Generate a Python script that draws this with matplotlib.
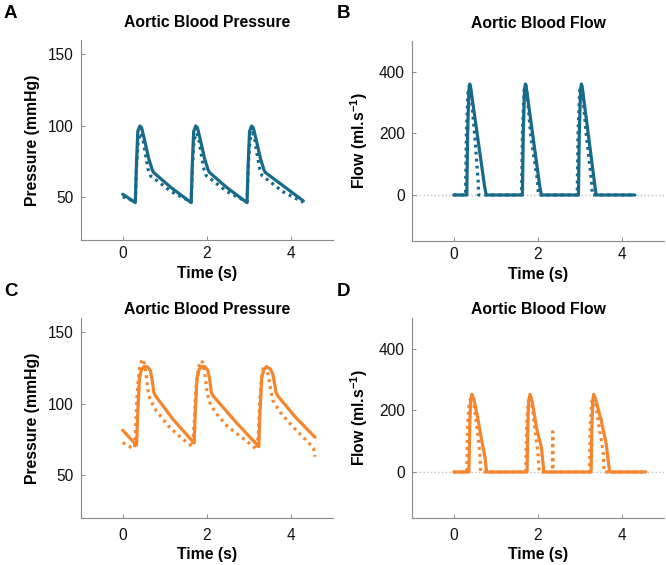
import numpy as np
import matplotlib
matplotlib.use("Agg")
import matplotlib.pyplot as plt

plt.rcParams['font.family'] = ['Liberation Sans', 'DejaVu Sans']
plt.rcParams['mathtext.fontset'] = 'custom'
plt.rcParams['mathtext.bf'] = 'Liberation Sans:bold'
plt.rcParams['mathtext.rm'] = 'Liberation Sans'

teal = '#176a8a'
orange = '#f5862e'

# --- panel A : aortic pressure (teal)
tA = [0.00, 0.30, 0.33, 0.36, 0.41, 0.45, 0.52, 0.62, 0.70, 0.73, 1.15,
      1.63, 1.66, 1.69, 1.74, 1.78, 1.85, 1.95, 2.03, 2.06, 2.48,
      2.96, 2.99, 3.02, 3.07, 3.11, 3.18, 3.28, 3.36, 3.39, 4.30]
pA = [52.2, 46.3, 75.0, 96.0, 99.8, 98.5, 90.0, 77.0, 69.5, 67.5, 56.8,
      46.3, 75.0, 96.0, 99.8, 98.5, 90.0, 77.0, 69.5, 67.5, 56.8,
      46.3, 75.0, 96.0, 99.8, 98.5, 90.0, 77.0, 69.5, 67.5, 47.5]
tA_sim = [0.00, 0.30, 0.33, 0.37, 0.43, 0.48, 0.54, 0.60, 0.66, 0.80, 1.15,
          1.63, 1.66, 1.70, 1.76, 1.81, 1.87, 1.93, 1.99, 2.13, 2.48,
          2.96, 2.99, 3.03, 3.09, 3.14, 3.20, 3.26, 3.32, 3.46, 3.81, 4.30]
pA_sim = [50.5, 46.8, 72.0, 90.0, 95.0, 91.0, 80.0, 70.0, 65.0, 62.0, 54.0,
          46.8, 72.0, 90.0, 95.0, 91.0, 80.0, 70.0, 65.0, 62.0, 54.0,
          46.8, 72.0, 90.0, 95.0, 91.0, 80.0, 70.0, 65.0, 62.0, 54.0, 46.5]

# --- panel B : aortic flow (teal)
tB = [0.00, 0.31, 0.33, 0.36, 0.38, 0.40, 0.73, 0.77,
      1.63, 1.65, 1.68, 1.70, 1.72, 2.04, 2.08,
      2.96, 2.98, 3.01, 3.03, 3.05, 3.35, 3.38, 4.30]
fB = [0, 0, 200, 340, 360, 350, 30, 0,
      0, 200, 340, 360, 350, 30, 0,
      0, 200, 340, 360, 350, 30, 0, 0]
tB_sim = [0.00, 0.28, 0.30, 0.34, 0.38, 0.40, 0.50, 0.58, 0.59,
          1.61, 1.63, 1.67, 1.71, 1.73, 1.83, 1.99, 2.01,
          2.93, 2.95, 2.99, 3.03, 3.05, 3.15, 3.27, 3.29, 4.30]
fB_sim = [0, 0, 200, 340, 358, 345, 190, 45, 0,
          0, 200, 340, 358, 345, 190, 45, 0,
          0, 200, 340, 358, 345, 190, 45, 0, 0]

# --- panel C : aortic pressure (orange)
tC = [0.00, 0.33, 0.36, 0.40, 0.45, 0.52, 0.60, 0.66, 0.70, 0.74, 0.78, 1.20,
      1.70, 1.73, 1.77, 1.82, 1.89, 1.97, 2.03, 2.07, 2.11, 2.15, 2.70,
      3.24, 3.27, 3.31, 3.36, 3.43, 3.51, 3.57, 3.61, 3.65, 3.69, 4.10, 4.58]
pC = [81.4, 71.0, 95.0, 118.0, 124.0, 126.0, 125.5, 123.0, 117.0, 108.0, 105.5, 89.0,
      72.5, 95.0, 118.0, 124.0, 126.0, 125.5, 123.0, 117.0, 108.0, 105.5, 87.0,
      70.0, 95.0, 118.0, 124.0, 125.5, 124.5, 121.0, 115.0, 108.0, 105.5, 91.0, 76.5]
tC_sim = [0.00, 0.20, 0.28, 0.31, 0.35, 0.40, 0.46, 0.50, 0.55, 0.60, 0.65, 0.80, 1.10, 1.40,
          1.66, 1.70, 1.74, 1.80, 1.86, 1.90, 1.95, 2.00, 2.05, 2.20, 2.50, 2.90,
          3.20, 3.23, 3.27, 3.32, 3.37, 3.41, 3.46, 3.52, 3.58, 3.75, 4.05, 4.45, 4.54, 4.58]
pC_sim = [72.8, 69.5, 69.0, 85.0, 110.0, 125.0, 131.0, 130.0, 122.0, 110.0, 103.0, 95.0, 84.0, 76.0,
          70.0, 85.0, 110.0, 125.0, 130.0, 129.0, 122.0, 110.0, 102.0, 94.0, 84.0, 75.0,
          68.0, 80.0, 105.0, 122.0, 127.0, 126.0, 121.0, 110.0, 102.0, 94.0, 84.0, 72.0, 69.0, 63.0]

# --- panel D : aortic flow (orange)
tD = [0.00, 0.36, 0.38, 0.40, 0.43, 0.48, 0.58, 0.66, 0.74, 0.78,
      1.74, 1.76, 1.78, 1.81, 1.86, 1.97, 2.08, 2.14,
      3.26, 3.28, 3.30, 3.32, 3.37, 3.50, 3.62, 3.70, 4.56]
fD = [0, 0, 150, 230, 252, 235, 168, 104, 50, 0,
      0, 150, 230, 252, 230, 140, 80, 0,
      0, 150, 230, 252, 235, 168, 90, 0, 0]
tD_sim = [0.00, 0.31, 0.33, 0.37, 0.45, 0.55, 0.62, 0.64,
          1.71, 1.73, 1.77, 1.83, 1.92, 2.00, 2.03,
          2.34, 2.35, 2.36,
          3.22, 3.24, 3.28, 3.34, 3.45, 3.55, 3.57, 4.56]
fD_sim = [0, 0, 150, 230, 245, 147, 61, 0,
          0, 150, 230, 245, 147, 61, 0,
          0, 131, 0,
          0, 150, 230, 245, 147, 61, 0, 0]

dot = (0, (0.9, 1.3))
lw = 2.3
fs = 11.3

fig = plt.figure(figsize=(6.66, 5.65), dpi=100)
W, H = 666.0, 565.0

def make_ax(x0, x1, y_top, y_bot):
    return fig.add_axes([x0 / W, 1 - y_bot / H, (x1 - x0) / W, (y_bot - y_top) / H])

axA = make_ax(80.7, 332.7, 39.7, 240.3)
axB = make_ax(411.6, 664.4, 40.9, 241.2)
axC = make_ax(80.7, 332.7, 317.7, 518.3)
axD = make_ax(411.6, 664.4, 317.9, 518.2)

panels = [
    (axA, tA, pA, tA_sim, pA_sim, teal, 'pressure', 9, 4, 4),
    (axB, tB, fB, tB_sim, fB_sim, teal, 'flow', 9, 4, 4),
    (axC, tC, pC, tC_sim, pC_sim, orange, 'pressure', 3, 7, 3),
    (axD, tD, fD, tD_sim, fD_sim, orange, 'flow', 3, 7, 3),
]

for ax, t, y, ts, ys, col, kind, tpad, xpad, xlpad in panels:
    if kind == 'flow':
        ax.axhline(0, color='#c0c0c0', ls=':', lw=1.0, zorder=0)
    ax.plot(t, y, color=col, lw=lw, solid_capstyle='round', solid_joinstyle='round')
    ax.plot(ts, ys, color=col, lw=lw, ls=dot, dash_capstyle='butt')
    ax.set_xlim(-1, 5)
    ax.set_xticks([0, 2, 4])
    if kind == 'pressure':
        ax.set_ylim(20, 160)
        ax.set_yticks([50, 100, 150])
        ax.set_ylabel('Pressure (mmHg)', fontsize=fs, fontweight='bold', labelpad=6)
        ax.set_title('Aortic Blood Pressure', fontsize=fs, fontweight='bold', pad=tpad)
    else:
        ax.set_ylim(-150, 500)
        ax.set_yticks([0, 200, 400])
        ax.set_ylabel(r'Flow (ml.s$^{\mathbf{-1}}$)', fontsize=fs, fontweight='bold', labelpad=6)
        ax.set_title('Aortic Blood Flow', fontsize=fs, fontweight='bold', pad=tpad)
    ax.set_xlabel('Time (s)', fontsize=fs, fontweight='bold', labelpad=xlpad)
    for s in ['top', 'right']:
        ax.spines[s].set_visible(False)
    for s in ['left', 'bottom']:
        ax.spines[s].set_color('#8a8a8a')
        ax.spines[s].set_linewidth(0.8)
    ax.tick_params(direction='in', length=3, width=0.7, color='#8a8a8a',
                   labelsize=11.2, labelcolor='#111111', pad=5)
    ax.tick_params(axis='x', pad=xpad)
    ax.set_facecolor('none')

fig.text(4 / W, 1 - 13 / H, 'A', fontsize=13.5, fontweight='bold', va='center', ha='left')
fig.text(337 / W, 1 - 13 / H, 'B', fontsize=13.5, fontweight='bold', va='center', ha='left')
fig.text(4 / W, 1 - 292 / H, 'C', fontsize=13.5, fontweight='bold', va='center', ha='left')
fig.text(337 / W, 1 - 292 / H, 'D', fontsize=13.5, fontweight='bold', va='center', ha='left')

fig.savefig('out.png', dpi=100)
